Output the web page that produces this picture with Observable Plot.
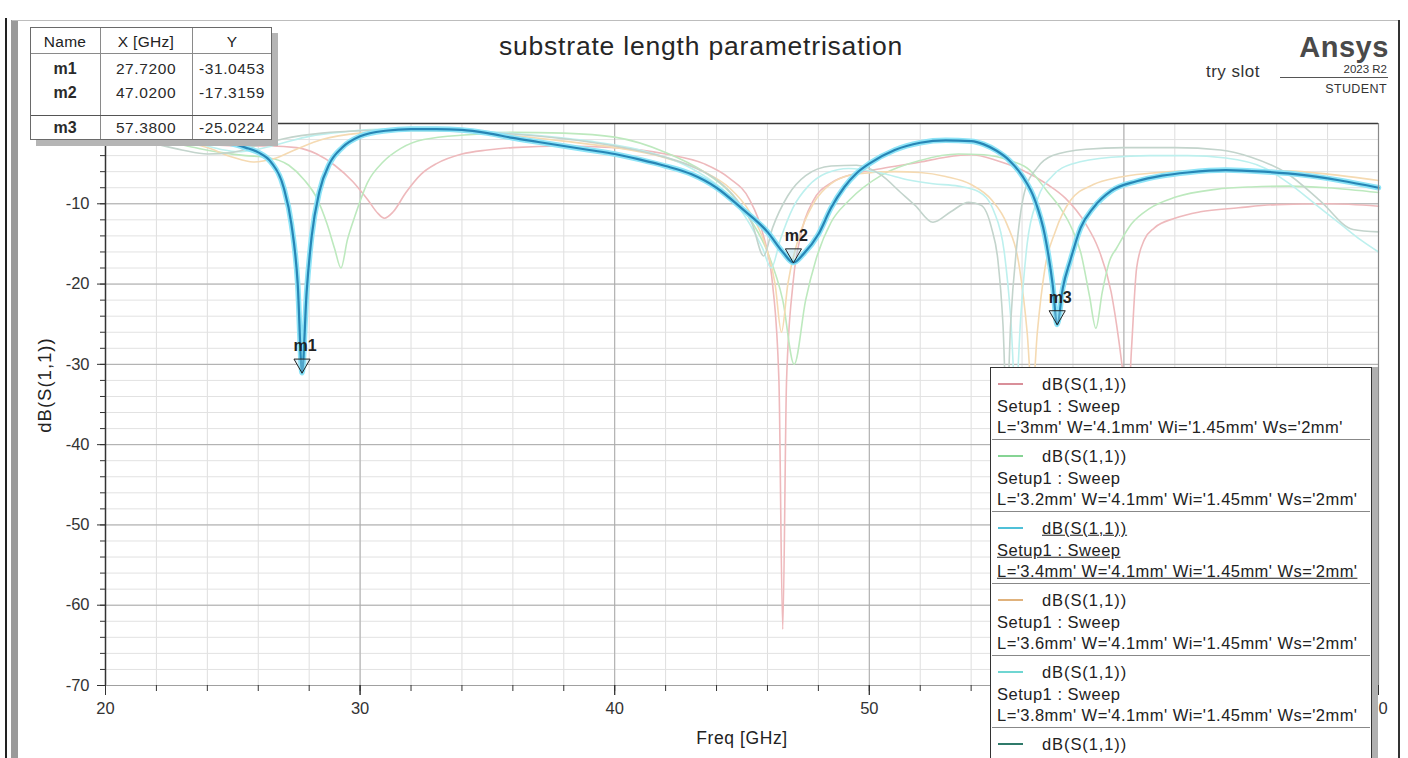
<!DOCTYPE html>
<html><head><meta charset="utf-8">
<script src="https://cdn.jsdelivr.net/npm/d3@7"></script>
<script src="https://cdn.jsdelivr.net/npm/@observablehq/plot@0.6"></script>
<style>
body{margin:0;background:#fff;font-family:Arial,"Liberation Sans",sans-serif;}
#page{position:relative;width:1408px;height:758px;overflow:hidden;background:#fff;}
#chart{position:absolute;left:0;top:0;}
.abs{position:absolute;white-space:nowrap;line-height:1;}
.box{position:absolute;}
</style></head><body><div id="page"><div id="chart"></div></div>
<script>
// ---- axis ticks ----
const xMajor = [20, 30, 40, 50, 60, 70];
const xMinor = d3.range(20, 70.01, 2);
const yMajor = [-70, -60, -50, -40, -30, -20, -10, 0];
const yMinor = d3.range(-70, 0.01, 2);
const xHiddenLabels = [60]; // tick label covered by the legend box

// ---- series: [Freq GHz, dB(S(1,1))] ----
const s30 = [[20,-1.6],[22,-2],[24,-2.6],[25.5,-2.8],[26.5,-2.8],[27.5,-3],[28.3,-3.8],[29,-5.2],[29.7,-7.2],[30.3,-9.5],[30.7,-11.2],[30.95,-11.8],[31.3,-11],[31.8,-8.6],[32.4,-6.3],[33,-5],[34,-3.8],[35,-3.3],[36,-3],[38,-2.8],[40,-3],[42,-3.8],[43.5,-5],[44.5,-6.8],[45.3,-9.5],[45.8,-13.5],[46.2,-20],[46.45,-32],[46.6,-63],[46.75,-32],[47,-20],[47.3,-14],[47.8,-9.6],[48.5,-7.4],[49.5,-6.2],[50.5,-5.6],[52,-4.8],[53,-4.2],[54,-3.9],[55,-4.6],[56,-5.8],[57,-7.6],[57.7,-9.3],[58.5,-12.5],[59,-15.6],[59.5,-21],[59.8,-27],[60,-32],[60.15,-36],[60.3,-28],[60.5,-18],[60.8,-14.5],[61.2,-13],[62,-11.8],[63,-11],[64.5,-10.5],[66,-10.1],[68,-10],[70,-10.3]];
const s32 = [[20,-1.3],[22,-2],[23.5,-3],[24.5,-3.6],[25.5,-4],[26.3,-4.2],[27.2,-5.2],[27.8,-7],[28.3,-9.3],[28.7,-12.5],[29,-15.6],[29.25,-18],[29.5,-14.5],[29.8,-11.5],[30.3,-7.3],[30.9,-4.8],[31.6,-3.1],[32.5,-2],[34.25,-1.4],[36,-1.1],[38,-1.2],[40,-1.7],[42,-3.6],[43.5,-6],[44.5,-8.5],[45.3,-11.8],[46,-16],[46.6,-22],[47.05,-30],[47.5,-22],[47.9,-17],[48.5,-12.3],[49.2,-9.6],[50.5,-6.4],[52,-4.6],[53.5,-3.8],[54.5,-3.9],[55.5,-4.6],[56.3,-5.8],[57,-8.5],[57.5,-10.5],[57.9,-12.7],[58.3,-16],[58.65,-21.5],[58.9,-25.5],[59.15,-21],[59.45,-17],[59.7,-15.6],[60.3,-12.5],[61,-10.6],[62,-9.2],[63.6,-8.2],[65,-7.9],[66.5,-7.8],[68,-8],[70,-8.6]];
const s34 = [[20,-1.2],[21,-1.3],[22,-1.4],[23,-1.6],[24,-1.9],[24.8,-2.4],[25.5,-3],[26,-3.6],[26.5,-4.8],[27,-8],[27.3,-12.5],[27.55,-20],[27.72,-31.0453],[27.9,-21],[28.1,-14],[28.4,-8.5],[28.8,-5],[29.3,-3],[30,-1.6],[31,-0.9],[32,-0.7],[33,-0.7],[34,-0.8],[35,-1.2],[36,-1.8],[37,-2.3],[38,-2.8],[39,-3.3],[40,-3.8],[41,-4.5],[42,-5.3],[43,-6.3],[44,-8],[45,-10.6],[46,-13.5],[46.6,-16],[47.02,-17.3159],[47.4,-16.3],[48,-13.8],[48.5,-10.5],[49,-8],[49.5,-6.2],[50,-5],[51,-3.3],[52,-2.4],[53,-2.1],[54,-2.2],[54.5,-2.6],[55,-3.4],[55.5,-4.6],[56,-6.5],[56.5,-9.5],[56.9,-14],[57.2,-20],[57.38,-25.0224],[57.6,-20.5],[57.9,-17],[58.3,-13],[58.8,-10.5],[59.5,-8.4],[60.5,-7.2],[61.5,-6.5],[62.5,-6.1],[64,-5.8],[65.5,-6],[67,-6.4],[68.5,-7.1],[70,-8]];
const s36 = [[20,-1.1],[22,-1.6],[24,-3],[25,-4.2],[25.8,-4.8],[26.6,-4.4],[27.5,-3.2],[28.5,-2],[30,-1.2],[32,-0.9],[34,-1],[36,-1.5],[38,-2.2],[40,-3],[42,-4.3],[43.5,-6],[44.5,-8],[45.3,-11],[45.9,-15],[46.3,-20],[46.55,-26],[46.8,-20],[47.2,-14.5],[47.8,-10],[48.5,-7.5],[49.5,-6.3],[51,-6],[52,-6.1],[53,-6.6],[54,-7.6],[54.8,-9.5],[55.4,-12.5],[55.9,-18],[56.2,-26],[56.4,-34],[56.6,-26],[56.9,-18],[57.3,-13.5],[57.9,-9.6],[58.8,-7.6],[59.8,-6.7],[61,-6.2],[62.4,-5.9],[64,-5.8],[66.4,-5.9],[68,-6.3],[70,-7.1]];
const s38 = [[20,-1],[22,-1.5],[23.5,-2.4],[24.5,-3.2],[25.2,-3.5],[26,-3.2],[27,-2.4],[28,-1.6],[29.5,-1],[31,-0.7],[33,-0.7],[35,-1],[37,-1.5],[39,-2.2],[41,-3.3],[42.5,-4.8],[43.5,-6.5],[44.5,-9],[45.3,-12.5],[45.8,-15.5],[46.15,-18],[46.5,-14.5],[47,-10.5],[47.6,-7.8],[48.3,-6.2],[49.2,-5.6],[50.5,-6.2],[51.5,-7],[52.5,-7.5],[53.5,-7.8],[54.3,-8.5],[54.9,-11],[55.3,-16],[55.55,-24],[55.75,-34],[55.95,-24],[56.2,-15],[56.6,-9.5],[57.2,-6.5],[58,-5],[59.5,-4.2],[61,-4],[62.5,-4],[64,-4.3],[65.5,-5.5],[66.5,-7.5],[67.5,-10],[68.5,-12.5],[69.3,-14.5],[70,-16]];
const s40 = [[20,-1.4],[21.5,-2.2],[23,-3.3],[24,-3.8],[25,-3.6],[26,-2.7],[27,-1.9],[28.5,-1.2],[30,-0.9],[32,-0.8],[34,-1],[36,-1.3],[38,-1.9],[40,-2.8],[41.5,-3.8],[43,-5.3],[44,-7],[44.8,-9.5],[45.4,-12.5],[45.85,-16.5],[46.2,-13],[46.8,-9],[47.5,-6.5],[48.5,-5.3],[49.5,-5.2],[50.5,-6.5],[51.2,-8.5],[51.8,-10.2],[52.5,-12.3],[53.2,-11],[53.9,-9.8],[54.4,-10.2],[54.8,-13],[55.05,-17],[55.25,-25],[55.4,-36],[55.55,-25],[55.8,-15],[56.1,-8.5],[56.6,-5.5],[57.2,-4],[58.5,-3.2],[60,-3],[62,-3],[63.8,-3.3],[65,-4.2],[66.4,-6.2],[67.7,-9.6],[69,-13.2],[70,-13.5]];

// ---- markers ----
const markerNames = ["m1", "m2", "m3"];
const markerX = [27.72, 47.02, 57.38];
const markerY = [-31.0453, -17.3159, -25.0224];

// ---- legend ----
const traceName = "dB(S(1,1))";
const setupName = "Setup1 : Sweep";
const variations = [
  "L='3mm' W='4.1mm' Wi='1.45mm' Ws='2mm'",
  "L='3.2mm' W='4.1mm' Wi='1.45mm' Ws='2mm'",
  "L='3.4mm' W='4.1mm' Wi='1.45mm' Ws='2mm'",
  "L='3.6mm' W='4.1mm' Wi='1.45mm' Ws='2mm'",
  "L='3.8mm' W='4.1mm' Wi='1.45mm' Ws='2mm'",
  "L='4mm' W='4.1mm' Wi='1.45mm' Ws='2mm'"
];

// ---- styles ----
const seriesList = [s30, s32, s34, s36, s38, s40];
const fadedColors = ["#eeb9bc", "#bde9be", "#8fd8ee", "#f5dab2", "#bdf0ee", "#c3d4cc"];
const swatchColors = ["#d98f99", "#86d494", "#4fc0d8", "#e0b27c", "#6fd6d2", "#2f7a6a"];
const FONT = "Arial, 'Liberation Sans', sans-serif";

const xy = {x: d => d[0], y: d => d[1], curve: "monotone-x"};
const markerData = markerNames.map((n, i) => ({n, x: markerX[i], y: markerY[i]}));

const faded = [0, 1, 3, 4, 5].map(i =>
  Plot.line(seriesList[i], {...xy, stroke: fadedColors[i], strokeWidth: 1.6}));

const chart = Plot.plot({
  width: 1408, height: 758,
  marginLeft: 105, marginRight: 30, marginTop: 123, marginBottom: 73,
  style: {fontFamily: FONT, fontSize: "16.5px", color: "#333", background: "transparent", overflow: "visible"},
  x: {domain: [20, 70]},
  y: {domain: [-70, 0]},
  marks: [
    Plot.gridX({ticks: xMinor, stroke: "#dedede", strokeOpacity: 1}),
    Plot.gridY({ticks: yMinor, stroke: "#e2e2e2", strokeOpacity: 1}),
    Plot.gridX({ticks: xMajor, stroke: "#ababab", strokeOpacity: 1}),
    Plot.gridY({ticks: yMajor, stroke: "#ababab", strokeOpacity: 1}),
    ...faded,
    Plot.line(s34, {...xy, stroke: "#8ee4f7", strokeWidth: 5.5}),
    Plot.line(s34, {...xy, stroke: "#2786b6", strokeWidth: 2.2}),
    Plot.ruleY([0], {stroke: "#3a3a3a", strokeWidth: 1.5}),
    Plot.ruleX([70], {stroke: "#8a8a8a", strokeWidth: 1.2}),
    Plot.ruleY([-70], {stroke: "#a0a0a0"}),
    Plot.ruleX([20], {stroke: "#333", strokeWidth: 1.5}),
    Plot.axisX({ticks: xMinor, tickSize: 6, fill: "none", label: null}),
    Plot.axisX({ticks: xMajor, tickSize: 10, fill: "none", label: null}),
    Plot.axisX({ticks: xMajor.filter(d => !xHiddenLabels.includes(d)), tickSize: 10, tickPadding: 7,
      label: null, tickFormat: d => String(d)}),
    Plot.axisY({ticks: yMinor, tickSize: 5, fill: "none", label: null}),
    Plot.axisY({ticks: yMajor, tickSize: 8, tickPadding: 8, label: null, tickFormat: d => String(d)}),
    Plot.dot(markerData, {x: "x", y: "y", symbol: "triangle", rotate: 180, r: 6, dy: -9,
      fill: "#9edcf0", fillOpacity: 0.35, stroke: "#222", strokeWidth: 1}),
    Plot.text(markerData, {x: "x", y: "y", text: "n", dy: -27, dx: 3, fontWeight: "bold",
      fontSize: 16, fill: "#222"})
  ]
});
const page = document.getElementById("page");
document.getElementById("chart").appendChild(chart);

// ---- helpers ----
function box(x, y, w, h, css) {
  const d = document.createElement("div");
  d.className = "box";
  Object.assign(d.style, {left: x + "px", top: y + "px", width: w + "px", height: h + "px"}, css || {});
  page.appendChild(d);
  return d;
}
function txt(s, x, y, css, anchor) {
  const d = document.createElement("div");
  d.className = "abs";
  d.textContent = s;
  Object.assign(d.style, {left: x + "px", top: y + "px", fontFamily: FONT, color: "#222"}, css || {});
  const tx = anchor === "start" ? "0" : anchor === "end" ? "-100%" : "-50%";
  d.style.transform = `translate(${tx},-50%)`;
  page.appendChild(d);
  return d;
}

// frame decorations of the screenshot
box(5, 18, 2, 740, {background: "#222"});
box(11, 20, 7, 738, {background: "#9a9a9a"});
box(12, 20, 1388, 1, {background: "#bdbdbd"});
box(1398, 20, 2, 738, {background: "#333"});

// title and logo
txt("substrate length parametrisation", 701, 46, {fontSize: "26.5px", letterSpacing: "0.8px", color: "#262626"});
txt("Ansys", 1344, 47, {fontSize: "29px", fontWeight: "bold", color: "#4a4a4a", letterSpacing: "0.5px"});
txt("try slot", 1233, 71, {fontSize: "17px", color: "#333", letterSpacing: "0.5px"});
txt("2023 R2", 1387, 70, {fontSize: "11.5px", color: "#333"}, "end");
box(1280, 77, 108, 1, {background: "#555"});
txt("STUDENT", 1387, 89, {fontSize: "12.5px", color: "#333", letterSpacing: "0.4px"}, "end");

// axis titles
txt("Freq [GHz]", 742, 739, {fontSize: "17.5px", letterSpacing: "0.6px", color: "#222"});
const yl = txt("dB(S(1,1))", 45, 385, {fontSize: "18.5px", letterSpacing: "1px", color: "#222"});
yl.style.transform = "translate(-50%,-50%) rotate(-90deg)";

// marker table
box(30, 27, 242, 113, {background: "#fff", border: "1px solid #6a6a6a", boxShadow: "6px 6px 0 #b5b5b5", boxSizing: "border-box"});
box(100, 28, 1, 111, {background: "#8a8a8a"});
box(192, 28, 1, 111, {background: "#8a8a8a"});
box(31, 53, 240, 1, {background: "#8a8a8a"});
box(31, 115, 240, 1, {background: "#555"});
const colX = [65, 146, 232];
["Name", "X [GHz]", "Y"].forEach((h, j) => txt(h, colX[j], 42, {fontSize: "15.5px", letterSpacing: "0.3px"}));
const rowY = [69, 93, 128];
markerNames.forEach((n, i) => {
  txt(n, colX[0], rowY[i], {fontSize: "16px", fontWeight: "bold", color: "#2a2a2a"});
  txt(markerX[i].toFixed(4), colX[1], rowY[i], {fontSize: "15.5px", letterSpacing: "0.6px", color: "#2a2a2a"});
  txt(markerY[i].toFixed(4), colX[2], rowY[i], {fontSize: "15.5px", letterSpacing: "0.6px", color: "#2a2a2a"});
});

// legend (the sixth entry is cut off by the window: only its first line shows)
const LX = 990, LY = 367, LW = 382, EH = 72;
box(LX, LY, LW, 420, {background: "#fff", border: "1.5px solid #333", boxShadow: "6px 0 0 #b0b0b0", boxSizing: "border-box"});
variations.forEach((v, i) => {
  const top = LY + i * EH;
  box(LX + 8, top + 16, 25, 2, {background: swatchColors[i]});
  const u = i === 2 ? {textDecoration: "underline"} : {};
  txt(traceName, LX + 52, top + 17, {fontSize: "16.5px", letterSpacing: "0.9px", ...u}, "start");
  if (top + 70 < 758) {
    txt(setupName, LX + 7, top + 39, {fontSize: "16.5px", letterSpacing: "0.5px", ...u}, "start");
    txt(v, LX + 7, top + 60, {fontSize: "16.5px", letterSpacing: "0.45px", ...u}, "start");
  }
  if (i < variations.length - 1) box(LX + 2, top + EH, LW - 4, 1, {background: "#888"});
});
</script>
</body></html>
